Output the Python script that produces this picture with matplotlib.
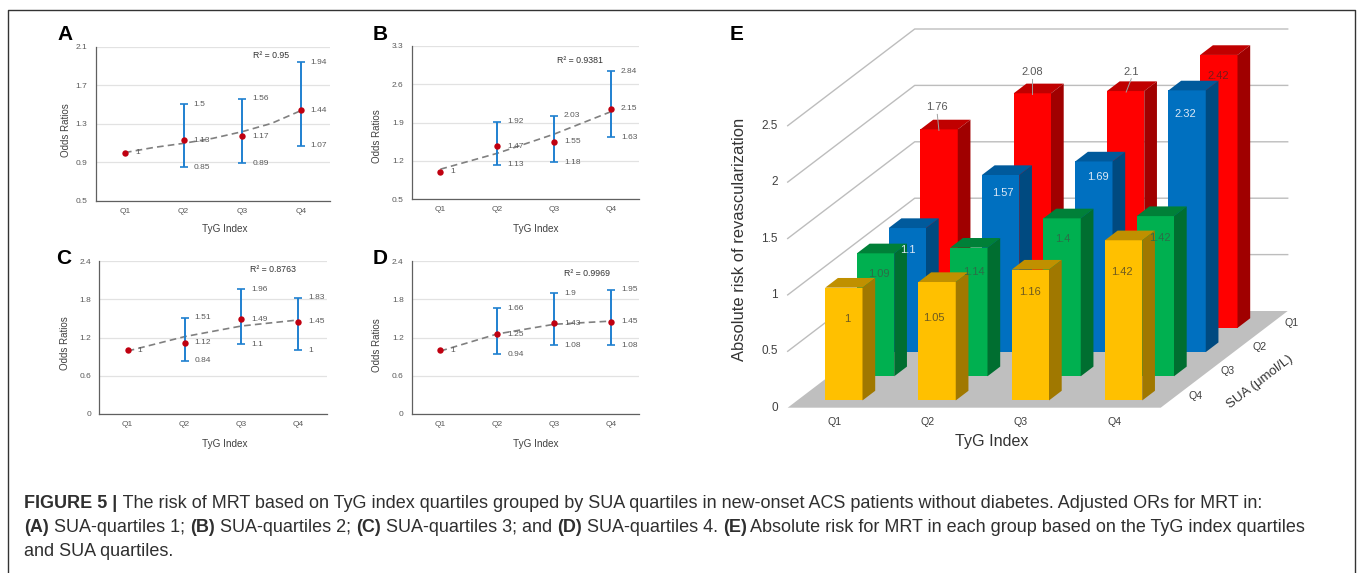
#!/usr/bin/env python3
"""TyG index / SUA quartile figure: four odds ratio panels and a 3D style bar panel."""

import numpy as np
import matplotlib
matplotlib.use('Agg')
import matplotlib.pyplot as plt
from matplotlib.patches import Polygon

plt.rcParams['font.family'] = ['Liberation Sans', 'DejaVu Sans']

W, H = 1357, 573

quartiles = ['Q1', 'Q2', 'Q3', 'Q4']

# Odds ratio panels
a_mean = [1, 1.13, 1.17, 1.44]
a_upper = [np.nan, 1.5, 1.56, 1.94]
a_lower = [np.nan, 0.85, 0.89, 1.07]
a_ticks = [0.5, 0.9, 1.3, 1.7, 2.1]
a_trend_x = [0, 0.5, 1, 1.5, 2, 2.5, 3]
a_trend_y = [1.0, 1.054, 1.096, 1.148, 1.217, 1.303, 1.435]

b_mean = [1, 1.47, 1.55, 2.15]
b_upper = [np.nan, 1.92, 2.03, 2.84]
b_lower = [np.nan, 1.13, 1.18, 1.63]
b_ticks = [0.5, 1.2, 1.9, 2.6, 3.3]
b_trend_x = [0, 1, 2, 3]
b_trend_y = [1.05, 1.34, 1.69, 2.10]

c_mean = [1, 1.12, 1.49, 1.45]
c_upper = [np.nan, 1.51, 1.96, 1.83]
c_lower = [np.nan, 0.84, 1.1, 1]
c_ticks = [0, 0.6, 1.2, 1.8, 2.4]
c_trend_x = [0, 1, 2, 3]
c_trend_y = [0.99, 1.216, 1.383, 1.478]

d_mean = [1, 1.25, 1.43, 1.45]
d_upper = [np.nan, 1.66, 1.9, 1.95]
d_lower = [np.nan, 0.94, 1.08, 1.08]
d_ticks = [0, 0.6, 1.2, 1.8, 2.4]
d_trend_x = [0, 1, 2, 3]
d_trend_y = [0.99, 1.258, 1.41, 1.46]

# Bar panel, rows run from the back (SUA Q1) to the front (SUA Q4)
sua_q1 = [1.76, 2.08, 2.1, 2.42]
sua_q2 = [1.1, 1.57, 1.69, 2.32]
sua_q3 = [1.09, 1.14, 1.4, 1.42]
sua_q4 = [1, 1.05, 1.16, 1.42]
e_ticks = [0, 0.5, 1, 1.5, 2, 2.5]

GRID = '#e2e2e2'
TEXT = '#5a5a5a'
ERR = '#1f80d0'
DOT = '#c00010'


def add_panel(fig, box, ylabel_at, xlabel_at, mean, upper, lower, ticks, trend_x, trend_y):
    """Draw one odds ratio panel, box is left, top, right, bottom in pixels."""
    left, top, right, bottom = box
    ax = fig.add_axes([left / W, 1 - bottom / H, (right - left) / W, (bottom - top) / H])
    ax.patch.set_alpha(0)
    x = np.arange(4)
    mean = np.array(mean, dtype=float)
    upper = np.array(upper, dtype=float)
    lower = np.array(lower, dtype=float)

    ax.set_xlim(-0.5, 3.5)
    ax.set_ylim(ticks[0], ticks[-1])
    ax.set_yticks(ticks)
    ax.set_yticklabels([f'{t:g}' for t in ticks], fontsize=6, color=TEXT)
    ax.set_xticks(x)
    ax.set_xticklabels(quartiles, fontsize=6, color=TEXT)
    ax.tick_params(length=0, pad=6)
    ax.tick_params(axis='x', pad=5)
    ax.grid(True, axis='y', color=GRID, lw=0.9)
    ax.set_axisbelow(True)
    for name in ['top', 'right']:
        ax.spines[name].set_visible(False)
    for name in ['left', 'bottom']:
        ax.spines[name].set_color('#606060')
        ax.spines[name].set_linewidth(0.9)

    ax.plot(trend_x, trend_y, color='#808080', lw=1.2, dashes=(4, 2.5), zorder=3)
    ax.errorbar(x, mean, yerr=[mean - lower, upper - mean], fmt='none', ecolor=ERR,
                elinewidth=1.4, capsize=2.6, capthick=1.2, zorder=4)
    ax.plot(x, mean, 'o', color=DOT, ms=4.6, mew=0, zorder=5)

    for i in x:
        for v in (upper[i], mean[i], lower[i]):
            if not np.isnan(v):
                ax.annotate(f'{v:g}', (i, v), xytext=(7.2, 0), textcoords='offset points',
                            fontsize=6, color=TEXT, va='center', ha='left', zorder=6)

    ax.set_xlabel('TyG Index', fontsize=7.2, color='#404040', va='center')
    ax.set_ylabel('Odds Ratios', fontsize=7, color='#404040', va='center')
    ax.xaxis.set_label_coords((xlabel_at[0] - left) / (right - left), (bottom - xlabel_at[1]) / (bottom - top))
    ax.yaxis.set_label_coords((ylabel_at[0] - left) / (right - left), (bottom - ylabel_at[1]) / (bottom - top))
    return ax


def draw_bars(ax, rows):
    """Oblique projection of the bars, the floor and the wall lines, in pixels."""
    x0, y0 = 787.7, 407.7       # front left floor corner
    floor_w = 373.0
    dx, dy = 127.0, 96.7        # shift from front to back of the floor
    unit = 112.8                # pixels per unit of risk
    cat_w = floor_w / 4
    bar_w = 0.4 * cat_w
    bar_d = 0.1

    def proj(x, depth, v=0.0):
        return (x0 + x + dx * depth, y0 - dy * depth - unit * v)

    ax.add_patch(Polygon([proj(0, 0), proj(floor_w, 0), proj(floor_w, 1), proj(0, 1)],
                         fc='#bfbfbf', ec='none', zorder=1))
    for t in e_ticks[1:]:
        pts = [proj(0, 0, t), proj(0, 1, t), proj(floor_w, 1, t)]
        ax.plot(*zip(*pts), color='#bdbdbd', lw=1.0, zorder=1)
        ax.text(x0 - 10, y0 - unit * t, f'{t:g}', ha='right', va='center', fontsize=8.5, color='#404040')
    ax.text(x0 - 10, y0, '0', ha='right', va='center', fontsize=8.5, color='#404040')

    tops = {}
    z = 2
    for row, (values, front, top, side) in enumerate(rows):
        depth = 0.825 - 0.25 * row
        for i, v in enumerate(values):
            a = (i + 0.5) * cat_w - bar_w / 2
            b = a + bar_w
            ax.add_patch(Polygon([proj(a, depth), proj(b, depth), proj(b, depth, v), proj(a, depth, v)],
                                 fc=front, ec='none', zorder=z))
            ax.add_patch(Polygon([proj(a, depth, v), proj(b, depth, v),
                                  proj(b, depth + bar_d, v), proj(a, depth + bar_d, v)],
                                 fc=top, ec='none', zorder=z))
            ax.add_patch(Polygon([proj(b, depth), proj(b, depth + bar_d),
                                  proj(b, depth + bar_d, v), proj(b, depth, v)],
                                 fc=side, ec='none', zorder=z))
            tops[row, i] = proj((a + b) / 2, depth, v)
        z += 1

    # Category labels along both floor edges
    for i, q in enumerate(quartiles):
        ax.text(x0 + (i + 0.5) * cat_w, y0 + 14.5, q, ha='center', va='center', fontsize=7.7, color='#404040')
    for row, q in enumerate(quartiles):
        depth = 0.875 - 0.25 * row
        px, py = proj(floor_w, depth)
        ax.text(px + 19.4, py, q, ha='center', va='center', fontsize=7.7, color='#404040')
    return tops


def add_caption(fig, x, y, runs, size):
    """Write one caption line from (text, bold) runs, starting at pixel x, y."""
    renderer = fig.canvas.get_renderer()
    for text, bold in runs:
        fig.text(x / W, 1 - y / H, text, fontsize=size, color='#2f2f2f', va='center', ha='left',
                 fontweight='bold' if bold else 'normal')
        # spaces at the end are not counted reliably, so measure with a stop sign
        probe = fig.text(0, 0, text + '.', fontsize=size, fontweight='bold' if bold else 'normal')
        dot = fig.text(0, 0, '.', fontsize=size, fontweight='bold' if bold else 'normal')
        x += probe.get_window_extent(renderer).width - dot.get_window_extent(renderer).width
        probe.remove()
        dot.remove()


def main():
    fig = plt.figure(figsize=(W / 100, H / 100), dpi=100)
    over = fig.add_axes([0, 0, 1, 1])
    over.set_xlim(0, W)
    over.set_ylim(H, 0)
    over.axis('off')

    over.plot([8, 8, 1355, 1355], [H, 10, 10, H], color='#333333', lw=1.0)

    add_panel(fig, (95.7, 46.7, 330, 200.7), (66, 130), (224.7, 229),
              a_mean, a_upper, a_lower, a_ticks, a_trend_x, a_trend_y)
    add_panel(fig, (412, 46, 639.3, 199.3), (377.5, 135.7), (536, 229),
              b_mean, b_upper, b_lower, b_ticks, b_trend_x, b_trend_y)
    add_panel(fig, (99.3, 261.3, 326.7, 414), (65, 343), (224.7, 444),
              c_mean, c_upper, c_lower, c_ticks, c_trend_x, c_trend_y)
    add_panel(fig, (412, 261.3, 639.3, 414), (377.5, 345.5), (536, 444),
              d_mean, d_upper, d_lower, d_ticks, d_trend_x, d_trend_y)

    for x, y, s in [(253.3, 56, 'R² = 0.95'), (556.7, 60.7, 'R² = 0.9381'),
                    (250, 269, 'R² = 0.8763'), (564, 273.7, 'R² = 0.9969')]:
        over.text(x, y, s, fontsize=6.3, color='#333333', va='center', ha='left')

    for x, y, s in [(65, 34.5, 'A'), (380.5, 34.5, 'B'), (64, 259, 'C'), (380.5, 259, 'D'), (737, 34.5, 'E')]:
        over.text(x, y, s, fontsize=15, fontweight='bold', color='black', ha='center', va='center')

    rows = [(sua_q1, '#ff0000', '#c00000', '#a00000'),
            (sua_q2, '#0070c0', '#005a9c', '#004a80'),
            (sua_q3, '#00b050', '#008038', '#006e30'),
            (sua_q4, '#ffc000', '#c09000', '#a07800')]
    tops = draw_bars(over, rows)

    # Value labels, offset from the top centre of each bar's front face
    offsets = [[(-1.8, -22), (0, -21.6), (5.7, -19.3), (-1, 20.8)],
               [(0, 22), (2.4, 18), (4, 16), (-2, 24)],
               [(3.4, 20.4), (4.8, 24), (1, 20.6), (5, 21.6)],
               [(3, 31.6), (-3, 35.7), (0, 22), (-2, 31.7)]]
    label_colors = [['#595959', '#595959', '#595959', '#7a1a1a'],
                    ['#dce8f5'] * 4,
                    ['#2b6e48'] * 4,
                    ['#6e5a20'] * 4]
    for row, (values, *_) in enumerate(rows):
        for i, v in enumerate(values):
            px, py = tops[row, i]
            ox, oy = offsets[row][i]
            over.text(px + ox, py + oy, f'{v:g}', fontsize=8, color=label_colors[row][i],
                      ha='center', va='center', zorder=10)
            if row == 0 and i < 3:
                over.plot([px + ox, px + ox * 0.1], [py + oy + 7, py + 1], color='#a0a0a0', lw=0.7, zorder=10)

    over.text(739, 239.5, 'Absolute risk of revascularization', rotation=90, fontsize=11.9,
              color='#333333', ha='center', va='center')
    over.text(991.7, 441.7, 'TyG Index', fontsize=11.6, color='#333333', ha='center', va='center')
    over.text(1260, 382, 'SUA (μmol/L)', rotation=37.5, rotation_mode='anchor', fontsize=9.6,
              color='#333333', ha='center', va='center')

    size = 13.0
    add_caption(fig, 24.5, 503, [('FIGURE 5 |', True),
                                 (' The risk of MRT based on TyG index quartiles grouped by SUA quartiles in new-onset '
                                  'ACS patients without diabetes. Adjusted ORs for MRT in:', False)], size)
    add_caption(fig, 24.5, 527.5, [('(A)', True), (' SUA-quartiles 1; ', False), ('(B)', True),
                                   (' SUA-quartiles 2; ', False), ('(C)', True), (' SUA-quartiles 3; and ', False),
                                   ('(D)', True), (' SUA-quartiles 4. ', False), ('(E)', True),
                                   (' Absolute risk for MRT in each group based on the TyG index quartiles', False)], size)
    add_caption(fig, 24.5, 551, [('and SUA quartiles.', False)], size)

    fig.savefig('out.png', dpi=100, facecolor='white')
    plt.close(fig)


if __name__ == '__main__':
    main()
